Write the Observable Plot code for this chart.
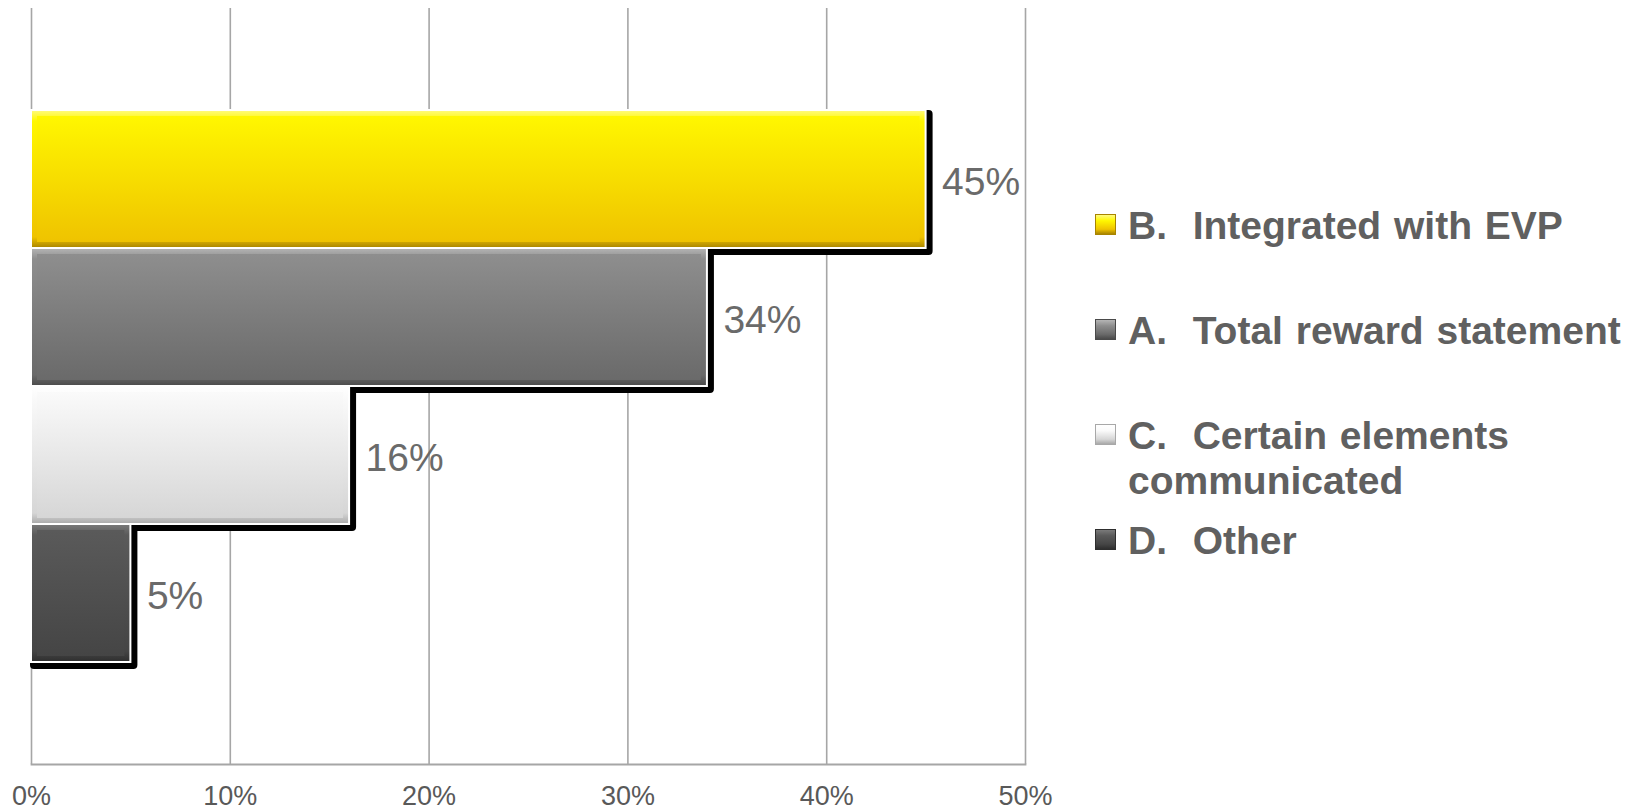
<!DOCTYPE html>
<html><head><meta charset="utf-8">
<script src="https://cdn.jsdelivr.net/npm/d3@7"></script>
<script src="https://cdn.jsdelivr.net/npm/@observablehq/plot@0.6"></script>
<style>
body{margin:0;background:#fff;}
#wrap{position:relative;width:1639px;height:810px;overflow:hidden;background:#fff;}
#chart{position:absolute;left:0;top:0;}
#legend{position:absolute;left:1095px;top:203px;font-family:"Liberation Sans",Arial,sans-serif;font-weight:bold;font-size:39px;word-spacing:2px;color:#606060;}
.item{display:flex;align-items:flex-start;height:105px;}
.sw{width:21px;height:21px;margin-top:11px;margin-right:12px;flex:none;box-sizing:border-box;}
.lab{white-space:pre-wrap;line-height:45px;width:520px;}
</style></head><body>
<div id="wrap"><div id="chart"></div><div id="legend"></div></div>
<script>
// ---- data ----
const keys = ["B", "A", "C", "D"];
const categories = ["B.  Integrated with EVP", "A.  Total reward statement", "C.  Certain elements communicated", "D.  Other"];
const values = [0.45, 0.34, 0.16, 0.05];
const xTicks = [0, 0.1, 0.2, 0.3, 0.4, 0.5];

// ---- styles ----
const gradTop = ["#fff700", "#8e8e8e", "#fafafa", "#5a5a5a"];
const gradBot = ["#efc300", "#6a6a6a", "#d6d6d6", "#454545"];
const edgeTop = ["#fffb80", "#b5b5b5", "#ffffff", "#7a7a7a"];
const edgeBot = ["#a88400", "#4a4a4a", "#a8a8a8", "#2e2e2e"];

const data = keys.map((k, i) => ({key: k, category: categories[i], value: values[i]}));
const fmt = d3.format(".0%");

const chart = Plot.plot({
  width: 1060,
  height: 810,
  marginLeft: 31,
  marginRight: 35,
  marginTop: 8,
  marginBottom: 46,
  style: {fontFamily: "'Liberation Sans',Arial,sans-serif", fontSize: "27px", color: "#595959", background: "#fff", overflow: "visible"},
  x: {domain: [0, 0.5], axis: null, label: null},
  y: {domain: keys, paddingInner: 0, paddingOuter: 0.733, axis: null},
  color: {domain: keys, range: keys.map(k => `url(#main${k})`)},
  marks: [
    Plot.gridX(xTicks, {stroke: "#a6a6a6", strokeOpacity: 1, strokeWidth: 1.6}),
    Plot.frame({anchor: "bottom", stroke: "#a6a6a6", strokeWidth: 1.8}),
    Plot.axisX(xTicks, {tickSize: 0, tickPadding: 21, tickFormat: fmt, fill: "#595959", fontSize: 27, label: null}),
    // shadows
    Plot.barX(data, {x: "value", y: "key", fill: "#000", insetRight: -7, insetBottom: -7, insetLeft: -1, rx: 4}),
    // outer bevel
    Plot.barX(data, {x: "value", y: "key", fill: d => `url(#edge${d.key})`, stroke: "#fff", strokeWidth: 2}),
    // inner face
    Plot.barX(data, {x: "value", y: "key", fill: "key", insetTop: 6, insetBottom: 6, insetLeft: 6, insetRight: 6}),
    Plot.text(data, {x: "value", y: "key", text: d => fmt(d.value), textAnchor: "start", dx: 16, dy: 3, fontSize: 39, fontFamily: "'Liberation Sans',Arial,sans-serif", fill: "#6a6a6a"})
  ]
});

// gradients
const defs = d3.select(chart).insert("defs", ":first-child");
keys.forEach((k, i) => {
  const g = defs.append("linearGradient").attr("id", `main${k}`).attr("x1", 0).attr("y1", 0).attr("x2", 0).attr("y2", 1);
  g.append("stop").attr("offset", "0%").attr("stop-color", gradTop[i]);
  g.append("stop").attr("offset", "100%").attr("stop-color", gradBot[i]);
  const e = defs.append("linearGradient").attr("id", `edge${k}`).attr("x1", 0).attr("y1", 0).attr("x2", 0).attr("y2", 1);
  e.append("stop").attr("offset", "0%").attr("stop-color", edgeTop[i]);
  e.append("stop").attr("offset", "8%").attr("stop-color", gradTop[i]);
  e.append("stop").attr("offset", "92%").attr("stop-color", gradBot[i]);
  e.append("stop").attr("offset", "100%").attr("stop-color", edgeBot[i]);
});
document.getElementById("chart").appendChild(chart);

// legend
const legend = d3.select("#legend");
keys.forEach((k, i) => {
  const item = legend.append("div").attr("class", "item");
  item.append("div").attr("class", "sw")
    .style("background", `linear-gradient(to bottom, ${edgeTop[i]}, ${gradTop[i]} 30%, ${gradBot[i]} 75%, ${edgeBot[i]})`)
    .style("border", `1px solid ${edgeBot[i]}`);
  item.append("div").attr("class", "lab").text(categories[i]);
});
</script>
</body></html>
